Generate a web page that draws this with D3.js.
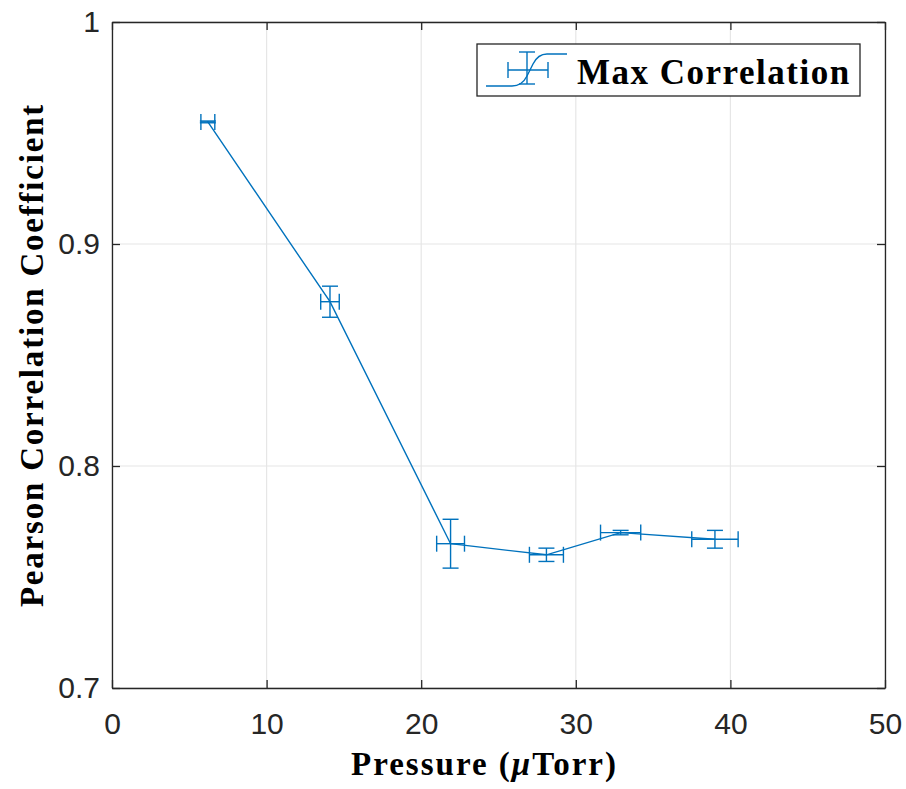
<!DOCTYPE html>
<html>
<head>
<meta charset="UTF-8">
<title>Max Correlation vs Pressure</title>
<script src="https://d3js.org/d3.v7.min.js"></script>
<style>
  body { margin: 0; background: #fff; }
</style>
</head>
<body>
<div id="chart"></div>
<script>
// data
var pressure   = [6.2, 14.1, 21.9, 28.1, 32.9, 39.0];
var pressureErr = [0.45, 0.6, 0.9, 1.1, 1.3, 1.5];
var corr       = [0.955, 0.874, 0.765, 0.760, 0.770, 0.767];
var corrErr    = [0.0004, 0.007, 0.011, 0.003, 0.001, 0.004];
var xTicks = [0, 10, 20, 30, 40, 50];
var yTicks = [0.7, 0.8, 0.9, 1];
var seriesName = "Max Correlation";

var W = 906, H = 789;
var margin = {top: 22, right: 21, bottom: 101, left: 112};
var width = W - margin.left - margin.right,
    height = H - margin.top - margin.bottom;

var blue = "#0072BD";
var serif = "'Liberation Serif', 'Times New Roman', serif";

var svg = d3.select("#chart").append("svg")
    .attr("width", W)
    .attr("height", H);

var g = svg.append("g")
    .attr("transform", "translate(" + margin.left + "," + margin.top + ")");

var x = d3.scaleLinear().domain([0, 50]).range([0, width]);
var y = d3.scaleLinear().domain([0.7, 1]).range([height, 0]);

// grid
g.selectAll(".vgrid").data(xTicks).enter().append("line")
    .attr("x1", d => x(d)).attr("x2", d => x(d))
    .attr("y1", 0).attr("y2", height)
    .style("stroke", "#e6e6e6").style("stroke-width", 1.2);
g.selectAll(".hgrid").data(yTicks).enter().append("line")
    .attr("x1", 0).attr("x2", width)
    .attr("y1", d => y(d)).attr("y2", d => y(d))
    .style("stroke", "#e6e6e6").style("stroke-width", 1.2);

// axes (ticks inward, mirrored)
var tickLen = 8;
var xAxis = g.append("g").attr("transform", "translate(0," + height + ")")
    .call(d3.axisBottom(x).tickValues(xTicks).tickSizeInner(-tickLen).tickSizeOuter(0).tickPadding(25));
var yAxis = g.append("g")
    .call(d3.axisLeft(y).tickValues(yTicks).tickFormat(d3.format("")).tickSizeInner(-tickLen).tickSizeOuter(0).tickPadding(12));
var xTop = g.append("g")
    .call(d3.axisTop(x).tickValues(xTicks).tickSizeInner(-tickLen).tickSizeOuter(0).tickFormat(""));
var yRight = g.append("g").attr("transform", "translate(" + width + ",0)")
    .call(d3.axisRight(y).tickValues(yTicks).tickSizeInner(-tickLen).tickSizeOuter(0).tickFormat(""));

[xAxis, yAxis, xTop, yRight].forEach(function (a) {
    a.selectAll("path, line").style("stroke", "#262626").style("stroke-width", 1.3);
    a.selectAll("text")
        .style("font-family", "'Liberation Sans', Arial, sans-serif")
        .style("font-size", "30px")
        .style("fill", "#262626");
});

// axis labels
var xl = svg.append("text")
    .attr("x", margin.left + width / 2 - 14)
    .attr("y", 775)
    .attr("text-anchor", "middle")
    .style("font-family", serif)
    .style("font-weight", "bold")
    .style("font-size", "33px")
    .style("letter-spacing", "2px");
xl.append("tspan").text("Pressure (");
xl.append("tspan").style("font-style", "italic").text("\u03bc");
xl.append("tspan").text("Torr)");

svg.append("text")
    .attr("transform", "translate(43," + (margin.top + height / 2) + ") rotate(-90)")
    .attr("text-anchor", "middle")
    .style("font-family", serif)
    .style("font-weight", "bold")
    .style("font-size", "33px")
    .style("letter-spacing", "1.8px")
    .text("Pearson Correlation Coefficient");

// data line
var pts = pressure.map(function (p, i) {
    return {x: p, xe: pressureErr[i], y: corr[i], ye: corrErr[i]};
});

g.append("path")
    .datum(pts)
    .attr("d", d3.line().x(d => x(d.x)).y(d => y(d.y)))
    .style("fill", "none")
    .style("stroke", blue)
    .style("stroke-width", 1.4);

var cap = 8;
var eb = g.selectAll(".eb").data(pts).enter().append("g")
    .style("stroke", blue).style("stroke-width", 1.4).style("fill", "none");

// vertical error bars
eb.append("line")
    .attr("x1", d => x(d.x)).attr("x2", d => x(d.x))
    .attr("y1", d => y(d.y - d.ye)).attr("y2", d => y(d.y + d.ye));
eb.append("line")
    .attr("x1", d => x(d.x) - cap).attr("x2", d => x(d.x) + cap)
    .attr("y1", d => y(d.y - d.ye)).attr("y2", d => y(d.y - d.ye));
eb.append("line")
    .attr("x1", d => x(d.x) - cap).attr("x2", d => x(d.x) + cap)
    .attr("y1", d => y(d.y + d.ye)).attr("y2", d => y(d.y + d.ye));
// horizontal error bars
eb.append("line")
    .attr("x1", d => x(d.x - d.xe)).attr("x2", d => x(d.x + d.xe))
    .attr("y1", d => y(d.y)).attr("y2", d => y(d.y));
eb.append("line")
    .attr("x1", d => x(d.x - d.xe)).attr("x2", d => x(d.x - d.xe))
    .attr("y1", d => y(d.y) - cap).attr("y2", d => y(d.y) + cap);
eb.append("line")
    .attr("x1", d => x(d.x + d.xe)).attr("x2", d => x(d.x + d.xe))
    .attr("y1", d => y(d.y) - cap).attr("y2", d => y(d.y) + cap);

// legend
var lg = svg.append("g").attr("transform", "translate(477,44)");
lg.append("rect")
    .attr("width", 383).attr("height", 52)
    .style("fill", "#fff").style("stroke", "#262626").style("stroke-width", 1.3);
var sym = lg.append("g").style("stroke", blue).style("stroke-width", 1.4).style("fill", "none");
sym.append("path").attr("d", "M9,42 L35,42 Q45,42 50,32 L56,20 Q61,10 70,10 L90,10");
sym.append("line").attr("x1", 50).attr("x2", 50).attr("y1", 8).attr("y2", 40);
sym.append("line").attr("x1", 42).attr("x2", 58).attr("y1", 8).attr("y2", 8);
sym.append("line").attr("x1", 42).attr("x2", 58).attr("y1", 40).attr("y2", 40);
sym.append("line").attr("x1", 31).attr("x2", 71).attr("y1", 26).attr("y2", 26);
sym.append("line").attr("x1", 31).attr("x2", 31).attr("y1", 18).attr("y2", 34);
sym.append("line").attr("x1", 71).attr("x2", 71).attr("y1", 18).attr("y2", 34);
lg.append("text")
    .attr("x", 100).attr("y", 40)
    .style("font-family", serif)
    .style("font-weight", "bold")
    .style("font-size", "35px")
    .style("letter-spacing", "1.5px")
    .text(seriesName);
</script>
</body>
</html>
